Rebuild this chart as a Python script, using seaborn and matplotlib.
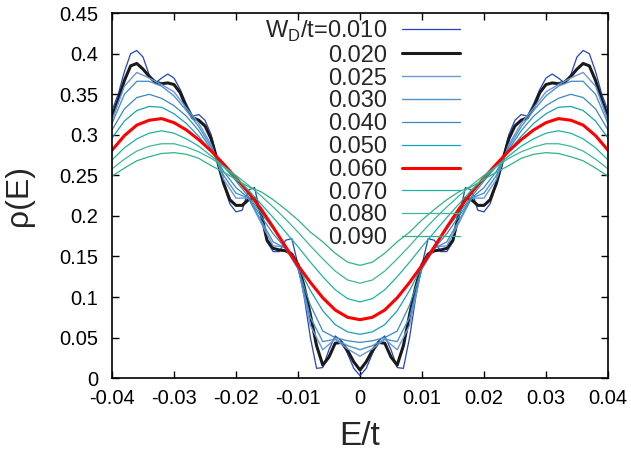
import numpy as np
import pandas as pd
import seaborn as sns
import matplotlib.pyplot as plt
from matplotlib.ticker import FuncFormatter, MultipleLocator

# positive energies only, the DOS is symmetric in E
e_fine = np.linspace(0, 0.04, 41)
e_coarse = np.linspace(0, 0.04, 21)

rho_010 = [0.003, 0.012, 0.030, 0.046, 0.052, 0.035, 0.013, 0.012, 0.050, 0.100,
           0.140, 0.172, 0.170, 0.156, 0.156, 0.168, 0.200, 0.235, 0.232, 0.207,
           0.205, 0.215, 0.240, 0.270, 0.300, 0.318, 0.325, 0.323, 0.338, 0.356,
           0.370, 0.375, 0.370, 0.364, 0.374, 0.396, 0.404, 0.400, 0.378, 0.350, 0.330]
rho_020 = [0.010, 0.020, 0.034, 0.044, 0.043, 0.026, 0.016, 0.040, 0.078, 0.113,
           0.140, 0.153, 0.157, 0.158, 0.160, 0.170, 0.205, 0.222, 0.220, 0.213,
           0.213, 0.220, 0.240, 0.268, 0.295, 0.311, 0.318, 0.321, 0.334, 0.352,
           0.362, 0.364, 0.363, 0.365, 0.372, 0.381, 0.388, 0.385, 0.367, 0.343, 0.322]
rho_025 = [0.027, 0.036, 0.048, 0.035, 0.065, 0.137, 0.162, 0.163, 0.192, 0.222,
           0.222, 0.245, 0.288, 0.314, 0.333, 0.353, 0.362, 0.370, 0.377, 0.360, 0.318]
rho_030 = [0.035, 0.040, 0.048, 0.045, 0.075, 0.135, 0.160, 0.168, 0.195, 0.222,
           0.228, 0.250, 0.285, 0.310, 0.330, 0.348, 0.360, 0.366, 0.366, 0.350, 0.314]
rho_040 = [0.044, 0.046, 0.050, 0.058, 0.090, 0.135, 0.160, 0.178, 0.200, 0.222,
           0.235, 0.255, 0.282, 0.305, 0.323, 0.336, 0.345, 0.350, 0.346, 0.332, 0.306]
rho_050 = [0.054, 0.057, 0.066, 0.083, 0.108, 0.138, 0.163, 0.184, 0.204, 0.224,
           0.243, 0.261, 0.280, 0.298, 0.314, 0.326, 0.334, 0.335, 0.330, 0.317, 0.296]
rho_060 = [0.072, 0.075, 0.084, 0.099, 0.118, 0.139, 0.162, 0.186, 0.209, 0.229,
           0.247, 0.264, 0.280, 0.294, 0.306, 0.315, 0.320, 0.318, 0.312, 0.299, 0.281]
rho_070 = [0.094, 0.098, 0.109, 0.125, 0.143, 0.162, 0.180, 0.198, 0.215, 0.232,
           0.247, 0.261, 0.274, 0.286, 0.295, 0.302, 0.305, 0.302, 0.295, 0.284, 0.269]
rho_080 = [0.117, 0.121, 0.132, 0.147, 0.163, 0.180, 0.196, 0.211, 0.225, 0.238,
           0.250, 0.261, 0.271, 0.279, 0.285, 0.289, 0.289, 0.286, 0.280, 0.270, 0.258]
rho_090 = [0.139, 0.143, 0.154, 0.168, 0.180, 0.195, 0.208, 0.220, 0.230, 0.236,
           0.245, 0.254, 0.262, 0.271, 0.276, 0.278, 0.277, 0.273, 0.268, 0.259, 0.249]

labels = [r'W$_\mathrm{D}$/t=0.010', '0.020', '0.025', '0.030', '0.040',
          '0.050', '0.060', '0.070', '0.080', '0.090']
curves = [(e_fine, rho_010), (e_fine, rho_020), (e_coarse, rho_025), (e_coarse, rho_030),
          (e_coarse, rho_040), (e_coarse, rho_050), (e_coarse, rho_060), (e_coarse, rho_070),
          (e_coarse, rho_080), (e_coarse, rho_090)]
colors = ['#2244c0', '#1a1a1a', '#6a98d8', '#4b94cf', '#3a88c0',
          '#17a2b6', '#ff0000', '#1cb4a6', '#3cb896', '#2db482']
widths = [0.9, 2.2, 1.0, 1.0, 0.9, 0.9, 2.2, 0.9, 0.9, 0.9]

sns.set_theme(style='ticks')
plt.rcParams['font.family'] = ['Liberation Sans', 'DejaVu Sans']
plt.rcParams['mathtext.fontset'] = 'custom'
plt.rcParams['mathtext.rm'] = 'Liberation Sans'
plt.rcParams['axes.unicode_minus'] = False

fig, ax = plt.subplots(figsize=(6.31, 4.55), dpi=100)
fig.subplots_adjust(left=0.1775, right=0.9635, bottom=0.169, top=0.971)

for (e, rho), lab, col, lw in zip(curves, labels, colors, widths):
    e = np.asarray(e)
    rho = np.asarray(rho)
    df = pd.DataFrame({'E': np.concatenate([-e[::-1], e[1:]]),
                       'rho': np.concatenate([rho[::-1], rho[1:]])})
    sns.lineplot(data=df, x='E', y='rho', ax=ax, color=col, lw=lw, label=lab, sort=False)

ax.set_xlim(-0.04, 0.04)
ax.set_ylim(0, 0.45)
ax.xaxis.set_major_locator(MultipleLocator(0.01))
ax.yaxis.set_major_locator(MultipleLocator(0.05))
fmt = FuncFormatter(lambda v, p: '%g' % round(v, 3))
ax.xaxis.set_major_formatter(fmt)
ax.yaxis.set_major_formatter(fmt)
ax.tick_params(direction='in', length=5, width=1, top=True, right=True,
               labelsize=14.5, colors='black', pad=8)
ax.tick_params(axis='y', pad=10)
for s in ax.spines.values():
    s.set_linewidth(1.2)
    s.set_color('black')

ax.set_xlabel('E/t', fontsize=24, labelpad=9)
ax.set_ylabel('ρ(E)', fontsize=23, labelpad=18)

leg = ax.legend(loc='upper right', bbox_to_anchor=(0.7016, 0.985), frameon=False,
                markerfirst=False, fontsize=17, handlelength=2.45, handletextpad=0.62,
                labelspacing=0.035, borderpad=0, borderaxespad=0)

fig.savefig('out.png', dpi=100)
